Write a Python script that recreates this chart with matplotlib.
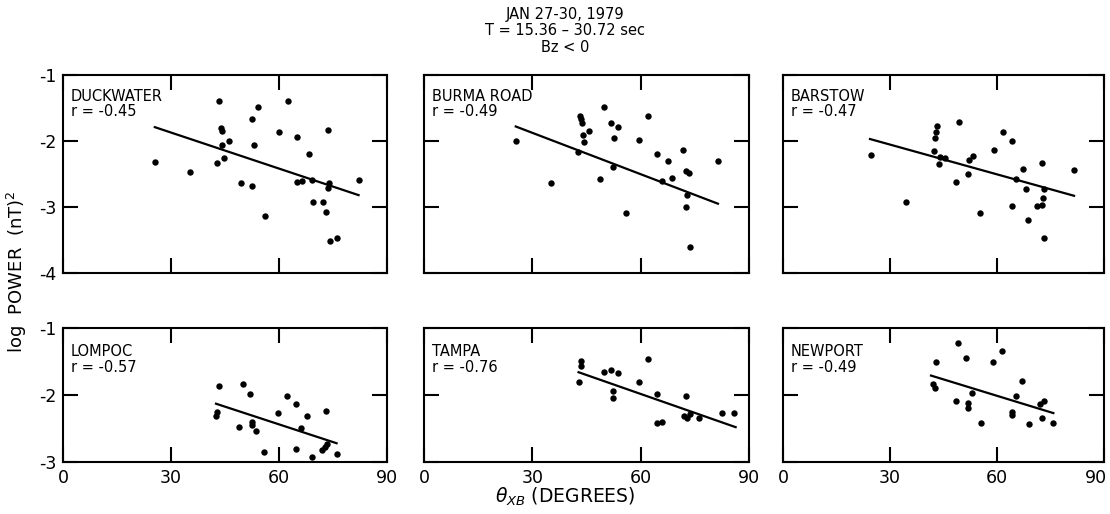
import matplotlib
matplotlib.use("Agg")
import matplotlib.pyplot as plt
from matplotlib.transforms import ScaledTranslation

plt.rcParams['font.family'] = ['DejaVu Sans']
plt.rcParams['axes.unicode_minus'] = False

title_lines = ["JAN 27-30, 1979", "T = 15.36 \u2013 30.72 sec", "Bz < 0"]
stations = ["DUCKWATER", "BURMA ROAD", "BARSTOW", "LOMPOC", "TAMPA", "NEWPORT"]
r_labels = ["r = -0.45", "r = -0.49", "r = -0.47", "r = -0.57", "r = -0.76", "r = -0.49"]
x_ticks = [0, 30, 60, 90]
y_ticks_top = [-1, -2, -3, -4]
y_ticks_bot = [-1, -2, -3]

duck_x = [25.5, 35.3, 43.4, 43.9, 44.1, 44.3, 42.9, 44.7, 46.2, 49.4, 52.4, 53.1, 52.6, 54.3, 56.2,
          59.9, 62.5, 64.9, 64.9, 66.3, 68.2, 69.1, 69.4, 72.2, 73.6, 73.1, 74.0, 73.7, 74.2, 76.1, 82.2]
duck_y = [-2.32, -2.47, -1.39, -1.81, -1.85, -2.06, -2.34, -2.26, -2.00, -2.64, -1.66, -2.06, -2.68, -1.49, -3.13,
          -1.86, -1.39, -1.94, -2.62, -2.61, -2.19, -2.59, -2.93, -2.92, -1.83, -3.07, -2.64, -2.71, -3.52, -3.47, -2.59]
duck_fit_x = [25.5, 82.1]
duck_fit_y = [-1.79, -2.82]

burma_x = [25.4, 35.1, 42.7, 43.2, 43.5, 43.8, 44.1, 44.4, 45.8, 48.8, 49.9, 51.8, 52.5, 52.3, 53.7,
           55.9, 59.4, 62.1, 64.5, 65.9, 67.5, 68.6, 71.7, 72.5, 73.5, 72.9, 72.5, 73.6, 81.5]
burma_y = [-2.00, -2.64, -2.17, -1.62, -1.67, -1.73, -1.91, -2.01, -1.85, -2.58, -1.48, -1.73, -1.96, -2.40, -1.79,
           -3.09, -1.99, -1.62, -2.19, -2.60, -2.30, -2.56, -2.14, -2.45, -2.49, -2.82, -3.00, -3.60, -2.31]
burma_fit_x = [25.4, 81.4]
burma_fit_y = [-1.78, -2.95]

bars_x = [24.8, 34.5, 42.2, 43.1, 42.9, 42.6, 44.1, 45.3, 43.8, 48.5, 49.4, 52.1, 53.2, 51.8, 55.3,
          59.1, 61.8, 64.2, 64.2, 67.3, 65.4, 68.1, 68.6, 72.7, 71.2, 72.5, 72.8, 73.1, 73.3, 81.7]
bars_y = [-2.21, -2.93, -2.15, -1.78, -1.86, -1.96, -2.25, -2.26, -2.35, -2.62, -1.71, -2.29, -2.22, -2.50, -3.09,
          -2.14, -1.86, -2.00, -2.99, -2.43, -2.57, -2.73, -3.19, -2.33, -2.98, -2.97, -2.86, -2.73, -3.47, -2.44]
bars_fit_x = [24.4, 81.6]
bars_fit_y = [-1.97, -2.83]

lomp_x = [43.4, 49.9, 51.9, 42.9, 42.5, 48.9, 52.4, 52.5, 53.7, 59.6, 62.1, 64.8, 67.8, 66.0, 73.1,
          55.9, 64.8, 69.3, 72.0, 72.8, 73.4, 76.0]
lomp_y = [-1.87, -1.84, -1.99, -2.25, -2.32, -2.48, -2.40, -2.45, -2.54, -2.27, -2.01, -2.14, -2.32, -2.49, -2.24,
          -2.85, -2.81, -2.93, -2.82, -2.77, -2.73, -2.88]
lomp_fit_x = [42.5, 76.0]
lomp_fit_y = [-2.13, -2.72]

tampa_x = [43.4, 43.6, 42.8, 49.9, 51.9, 53.6, 52.4, 52.3, 59.6, 62.1, 64.4, 64.4, 66.0, 72.5, 72.0,
           72.9, 73.6, 76.2, 82.4, 85.8]
tampa_y = [-1.49, -1.57, -1.80, -1.65, -1.63, -1.67, -1.94, -2.05, -1.81, -1.46, -1.99, -2.42, -2.41, -2.02, -2.32,
           -2.34, -2.28, -2.35, -2.27, -2.27]
tampa_fit_x = [42.8, 86.3]
tampa_fit_y = [-1.66, -2.48]

newp_x = [42.9, 42.0, 42.5, 49.2, 51.4, 48.6, 52.0, 51.8, 53.1, 55.5, 59.0, 61.4, 67.0, 65.4, 64.1,
          64.2, 68.9, 72.6, 75.8, 72.1, 73.2]
newp_y = [-1.51, -1.83, -1.89, -1.22, -1.45, -2.09, -2.12, -2.20, -1.97, -2.42, -1.50, -1.35, -1.79, -2.01, -2.25,
          -2.30, -2.43, -2.35, -2.42, -2.14, -2.09]
newp_fit_x = [41.5, 75.8]
newp_fit_y = [-1.71, -2.27]

xs = [duck_x, burma_x, bars_x, lomp_x, tampa_x, newp_x]
ys = [duck_y, burma_y, bars_y, lomp_y, tampa_y, newp_y]
fxs = [duck_fit_x, burma_fit_x, bars_fit_x, lomp_fit_x, tampa_fit_x, newp_fit_x]
fys = [duck_fit_y, burma_fit_y, bars_fit_y, lomp_fit_y, tampa_fit_y, newp_fit_y]

W, H = 1110, 514
fig = plt.figure(figsize=(W / 100, H / 100), dpi=100)

cols = [(63, 387), (424, 749), (783, 1104)]
rows = [(75, 273), (328, 462)]

for i in range(6):
    r, c = divmod(i, 3)
    x0, x1 = cols[c]
    y0, y1 = rows[r]
    ax = fig.add_axes([x0 / W, 1 - y1 / H, (x1 - x0) / W, (y1 - y0) / H])
    ax.plot(xs[i], ys[i], 'o', color='black', markersize=4.6, markeredgewidth=0)
    ax.plot(fxs[i], fys[i], '-', color='black', linewidth=1.6)
    ax.set_xlim(0, 90)
    if r == 0:
        ax.set_ylim(-4, -1)
        ax.set_yticks(y_ticks_top)
    else:
        ax.set_ylim(-3, -1)
        ax.set_yticks(y_ticks_bot)
    ax.set_xticks(x_ticks)
    ax.tick_params(direction='in', top=True, right=True, length=11, width=1.5,
                   labelsize=12.5, pad=5)
    if r == 0:
        ax.tick_params(labelbottom=False)
    if c != 0:
        ax.tick_params(labelleft=False)
    if r == 1 and c == 2:
        lbl = ax.get_xticklabels()[-1]
        lbl.set_transform(lbl.get_transform() + ScaledTranslation(-8 / 100, 0, fig.dpi_scale_trans))
    for s in ax.spines.values():
        s.set_linewidth(1.5)
    ax.text(0.025, 0.93 if r == 0 else 0.88, stations[i] + "\n" + r_labels[i],
            transform=ax.transAxes, ha='left', va='top', fontsize=10.5, linespacing=1.05)

for k, t in enumerate(title_lines):
    fig.text(565 / W, 1 - (14 + 16.5 * k) / H, t, ha='center', va='center', fontsize=10.5)

fig.text(17 / W, 1 - 272 / H, "log  POWER  (nT)$^2$", rotation=90, ha='center', va='center', fontsize=13)
fig.text(565 / W, 1 - 497 / H, r"$\theta_{XB}$ (DEGREES)", ha='center', va='center', fontsize=13.5)

fig.savefig("out.png", dpi=100)
